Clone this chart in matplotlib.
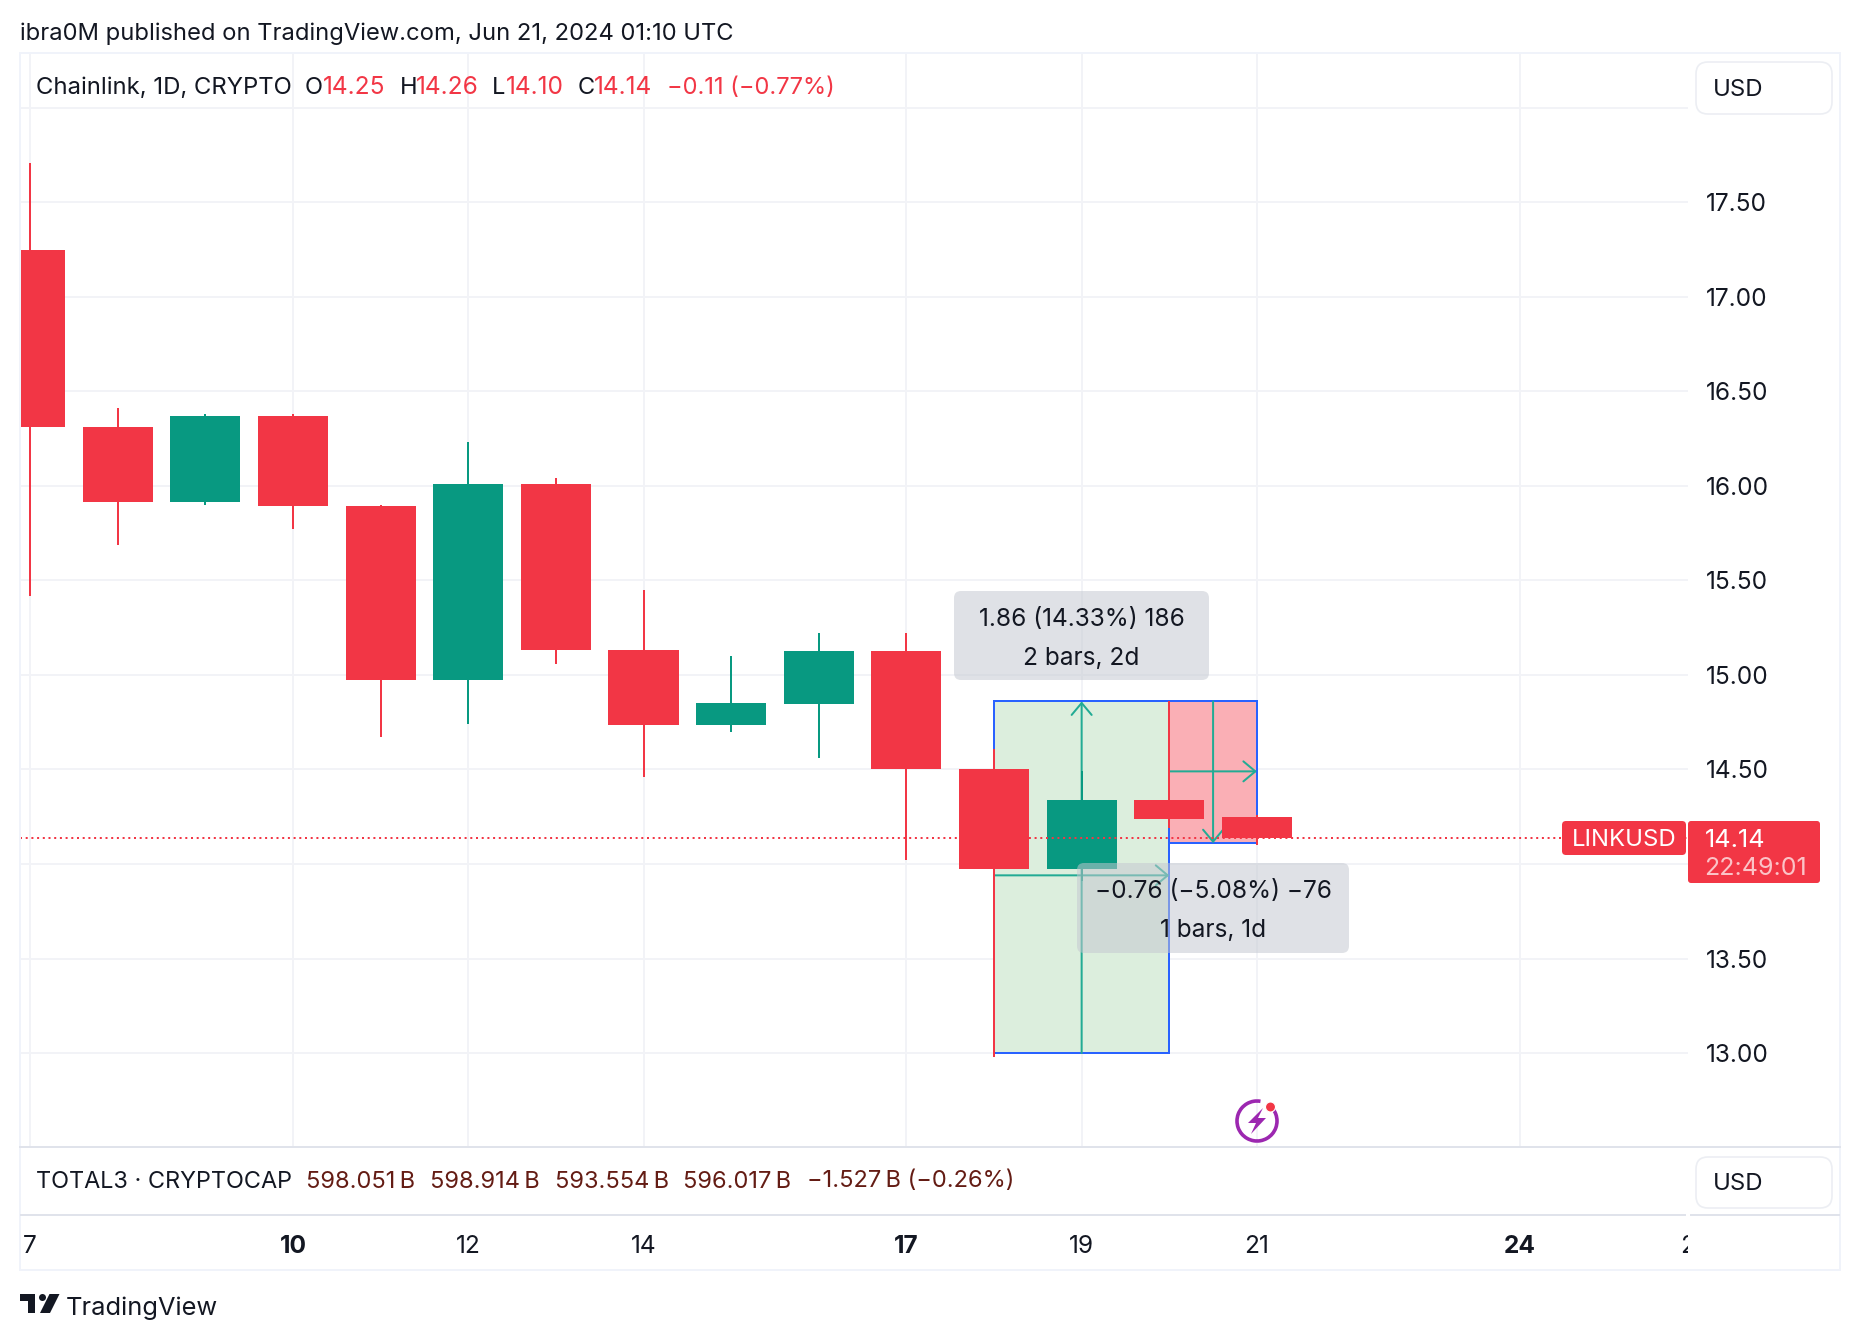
import matplotlib
matplotlib.use("Agg")
import matplotlib.pyplot as plt
from matplotlib.patches import FancyBboxPatch, Rectangle, Polygon, Circle, Arc
from matplotlib.transforms import Bbox, blended_transform_factory

plt.rcParams['font.family'] = ['Inter', 'DejaVu Sans']

# ---- data ----
days   = [7, 8, 9, 10, 11, 12, 13, 14, 15, 16, 17, 18, 19, 20, 21]
opens  = [17.25, 16.31, 15.915, 16.37, 15.895, 14.975, 16.01, 15.13, 14.735, 14.845, 15.125, 14.505, 13.975, 14.34, 14.25]
highs  = [17.71, 16.41, 16.38, 16.38, 15.90, 16.23, 16.04, 15.45, 15.10, 15.22, 15.22, 14.61, 14.49, 14.86, 14.26]
lows   = [15.42, 15.69, 15.90, 15.77, 14.67, 14.74, 15.06, 14.46, 14.70, 14.56, 14.02, 12.98, 13.91, 14.19, 14.10]
closes = [16.31, 15.915, 16.37, 15.895, 14.975, 16.01, 15.13, 14.735, 14.85, 15.125, 14.505, 13.975, 14.34, 14.24, 14.14]

last_price = 14.14
price_ticks = [13.0, 13.5, 14.0, 14.5, 15.0, 15.5, 16.0, 16.5, 17.0, 17.5, 18.0]
price_labels = ['13.00', '13.50', '', '14.50', '15.00', '15.50', '16.00', '16.50', '17.00', '17.50', '']
day_ticks = [7, 10, 12, 14, 17, 19, 21, 24]
day_labels = ['7', '10', '12', '14', '17', '19', '21', '24']
bold_days = [10, 17, 24]
clipped_day, clipped_day_label = 26, '26'

# measure tools: (x0, x1, y0, y1), vertical arrow x, horizontal arrow y
measure_up = (18, 20, 13.0, 14.86)
measure_up_xmid, measure_up_yarrow = 19, 13.94
measure_down = (20, 21, 14.86, 14.11)
measure_down_xmid, measure_down_yarrow = 20.5, 14.49

header = "ibra0M published on TradingView.com, Jun 21, 2024 01:10 UTC"
title_main = "Chainlink, 1D, CRYPTO"
ohlc_names = ['O', 'H', 'L', 'C']
ohlc_vals = ['14.25', '14.26', '14.10', '14.14']
ohlc_change = "\u22120.11 (\u22120.77%)"
total_name = "TOTAL3 \u00b7 CRYPTOCAP"
total_vals = ["598.051\u2009B", "598.914\u2009B", "593.554\u2009B", "596.017\u2009B", "\u22121.527\u2009B (\u22120.26%)"]

# ---- styles ----
RED = '#f23645'; GREEN = '#089981'; TEAL = '#22ab94'; BLUE = '#2962ff'
INK = '#131722'; GRID = '#f2f3f7'; FRAME = '#f0f3fa'; SEP = '#e0e3eb'
FS = 17
FSN = 17.6
W, H = 1860, 1340
LW2 = 2 * 72 / 100

fig = plt.figure(figsize=(W / 100, H / 100), dpi=100, facecolor='white')
L, R, T, B = 20, 1688, 53, 1147
ax = fig.add_axes([L / W, 1 - B / H, (R - L) / W, (B - T) / H])
ax.set_xlim(6.884, 25.92)
ax.set_ylim(12.503, 18.29)
for s in ax.spines.values():
    s.set_visible(False)
ax.set_axisbelow(True)
ax.grid(True, color=GRID, lw=LW2)
ax.set_yticks(price_ticks, price_labels)
ax.set_xticks(day_ticks, day_labels)
ax.yaxis.tick_right()
ax.tick_params(axis='y', length=0, pad=13, labelsize=FSN, labelcolor=INK)
ax.tick_params(axis='x', length=0, pad=63.5, labelsize=FSN, labelcolor=INK)
for lab, d in zip(ax.get_xticklabels(), day_ticks):
    if d in bold_days:
        lab.set_fontweight('bold')

# measure tools
ARROW = '->,head_length=0.86,head_width=0.72'
def measure(box, xmid, yarrow, fill):
    x0, x1, y0, y1 = box
    ax.add_patch(Rectangle((x0, y0), x1 - x0, y1 - y0, facecolor=fill, edgecolor=BLUE, lw=LW2, zorder=1.5))
    ax.annotate('', xy=(xmid, y1), xytext=(xmid, y0), zorder=1.6,
                arrowprops=dict(arrowstyle=ARROW, color=TEAL, lw=LW2, shrinkA=0, shrinkB=0))
    ax.annotate('', xy=(x1, yarrow), xytext=(x0, yarrow), zorder=1.6,
                arrowprops=dict(arrowstyle=ARROW, color=TEAL, lw=LW2, shrinkA=0, shrinkB=0))

measure(measure_up, measure_up_xmid, measure_up_yarrow, '#dceedd')
measure(measure_down, measure_down_xmid, measure_down_yarrow, '#faafb5')

# candles
colors = [GREEN if c > o else RED for o, c in zip(opens, closes)]
ax.vlines(days, lows, highs, colors=colors, lw=LW2, zorder=2)
ax.bar(days, [abs(c - o) for o, c in zip(opens, closes)],
       bottom=[min(o, c) for o, c in zip(opens, closes)],
       width=0.8, color=colors, zorder=2.1, linewidth=0)

# last price line
ax.axhline(last_price, color=RED, lw=LW2, ls=(0, (1, 1.85)), zorder=2.5)

# clipped tick 26
t26 = ax.text(clipped_day, 0, clipped_day_label, fontsize=FSN, color=INK, ha='center', va='center_baseline',
              transform=blended_transform_factory(ax.transData, ax.transAxes))
t26.set_position((clipped_day, (B - 1244) / (B - T)))
t26.set_clip_box(Bbox([[0, 0], [R, H]]))
t26.set_clip_on(True)

# ---- chrome in pixel coordinates ----
ov = fig.add_axes([0, 0, 1, 1], zorder=5)
ov.set_xlim(0, W); ov.set_ylim(H, 0)
ov.axis('off'); ov.patch.set_alpha(0)

def txt(x, y, s, color=INK, ha='left', fs=FS, **k):
    ov.text(x, y, s, color=color, ha=ha, va='center_baseline', fontsize=fs, **k)

def rbox(x0, y0, x1, y1, r, fc, ec='none', lw=0, alpha=None, z=3):
    ov.add_patch(FancyBboxPatch((x0 + r, y0 + r), x1 - x0 - 2 * r, y1 - y0 - 2 * r,
                                boxstyle=f"round,pad={r},rounding_size={r}",
                                fc=fc, ec=ec, lw=lw, alpha=alpha, zorder=z))

# frame and separators
ov.add_patch(Rectangle((20, 53), 1820, 1217, fc='none', ec=FRAME, lw=LW2, zorder=1))
ov.plot([20, 1840], [1147, 1147], color=SEP, lw=LW2, zorder=1)
ov.plot([20, 1686], [1215, 1215], color=SEP, lw=LW2, zorder=1, solid_capstyle='butt')
ov.plot([1690, 1840], [1215, 1215], color=SEP, lw=LW2, zorder=1, solid_capstyle='butt')

txt(20, 31, header, fs=17.1)

# legend row
txt(36, 85.5, title_main, fs=17.2)
for x, s in zip([305, 400, 492, 578], ohlc_names):
    txt(x, 85.5, s)
for x, s in zip([322.5, 415.5, 506, 593.5], ohlc_vals):
    txt(x, 85.5, s, color=RED, fs=FSN)
txt(667, 85.5, ohlc_change, color=RED)

# second row
txt(36, 1179, total_name, fs=16.9)
for x, s in zip([305.5, 430, 554.5, 682.5, 807], total_vals):
    txt(x, 1179, s, color='#641c14')

# USD buttons
for y0, y1, yt in [(62, 114, 87.5), (1157, 1208, 1182)]:
    rbox(1696, y0, 1832, y1, 12, 'white', ec='#eceef3', lw=1.2)
    txt(1713, yt, 'USD', fs=17.2)

# measure labels
for (x0, y0, x1, y1), l1, l2 in [
    ((954, 591, 1209, 680), "1.86 (14.33%) 186", "2 bars, 2d"),
    ((1077, 863, 1349, 953), "\u22120.76 (\u22125.08%) \u221276", "1 bars, 1d"),
]:
    rbox(x0, y0, x1, y1, 7, '#c4c8d0', alpha=0.53)
    xc = (x0 + x1) / 2
    txt(xc, y0 + 26, l1, ha='center', zorder=4, fs=17.6)
    txt(xc, y0 + 65, l2, ha='center', zorder=4, fs=17.6)

# price labels
rbox(1562, 821, 1686, 855, 4, RED)
txt(1624.5, 838, 'LINKUSD', color='white', ha='center', fs=17.2)
rbox(1688, 821, 1820, 883, 3, RED)
txt(1705, 838, '14.14', color='white', fs=18.2)
txt(1704, 866, '22:49:01', color='#fbc3c7', fs=18)

# lightning badge
ov.add_patch(Arc((1257, 1121), 40, 40, theta1=-40, theta2=280, color='#9c27b0', lw=2.6, zorder=3))
ov.add_patch(Polygon([(1263, 1108), (1248, 1123), (1256, 1123), (1251, 1134), (1266, 1118), (1258, 1118)],
                     closed=True, fc='#9c27b0', ec='none', zorder=3))
ov.add_patch(Circle((1270.5, 1107), 5, fc=RED, ec='white', lw=0.8, zorder=4))

# TradingView logo
ov.add_patch(Polygon([(20, 1294), (35, 1294), (35, 1313), (27.5, 1313), (27.5, 1301), (20, 1301)], closed=True, fc=INK, ec='none'))
ov.add_patch(Circle((42.5, 1297.5), 3.5, fc=INK, ec='none'))
ov.add_patch(Polygon([(49.5, 1294), (59.5, 1294), (50, 1313), (40, 1313)], closed=True, fc=INK, ec='none'))
txt(66, 1306, 'TradingView', fs=18.3)

fig.savefig('out.png', dpi=100, facecolor='white')
